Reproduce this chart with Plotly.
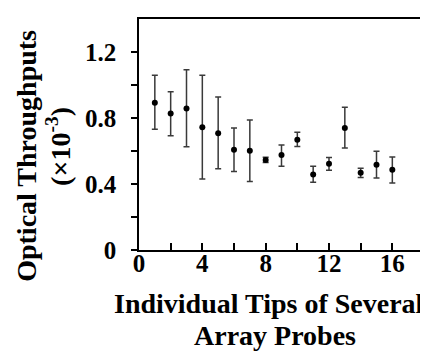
import plotly.graph_objects as go

tips = list(range(1, 17))
throughput = [0.893, 0.827, 0.857, 0.744, 0.708, 0.608, 0.602, 0.546,
              0.576, 0.668, 0.457, 0.522, 0.740, 0.468, 0.516, 0.486]
err_plus = [0.166, 0.132, 0.236, 0.315, 0.219, 0.132, 0.186, 0.016,
            0.060, 0.046, 0.051, 0.038, 0.125, 0.028, 0.082, 0.078]
err_minus = [0.161, 0.135, 0.231, 0.313, 0.216, 0.133, 0.187, 0.016,
             0.068, 0.040, 0.046, 0.038, 0.122, 0.029, 0.080, 0.080]

FONT = "Liberation Serif"

fig = go.Figure()
fig.add_trace(go.Scatter(
    x=tips, y=throughput, mode="markers",
    marker=dict(color="black", size=6),
    error_y=dict(type="data", symmetric=False, array=err_plus, arrayminus=err_minus,
                 color="#3a3a3a", thickness=1.5, width=3),
    showlegend=False,
))

W, H = 428, 352
L, R, T, B = 131, 12, 9, 110
pw, ph = W - L - R, H - T - B

tick_font = dict(family=FONT, size=25, color="black", weight="bold")

fig.update_layout(
    width=W, height=H,
    margin=dict(l=L, r=R, t=T, b=B),
    paper_bgcolor="white", plot_bgcolor="white",
    font=dict(family=FONT, size=18, color="black"),
    xaxis=dict(range=[0, 18], tickmode="array", tickvals=[0, 4, 8, 12, 16],
               ticks="inside", ticklen=7, tickwidth=1.5, tickcolor="black",
               minor=dict(tickmode="array", tickvals=[2, 6, 10, 14], ticks="inside",
                          ticklen=7, tickwidth=1.5, tickcolor="black"),
               showline=True, linecolor="black", linewidth=1.5, mirror=True,
               showgrid=False, zeroline=False,
               tickfont=tick_font, ticklabelstandoff=-10),
    yaxis=dict(range=[0, 1.4], tickmode="array", tickvals=[0, 0.4, 0.8, 1.2],
               ticktext=["0", "0.4", "0.8", "1.2"],
               ticks="outside", ticklen=6, tickwidth=1.5, tickcolor="black",
               minor=dict(tickmode="array", tickvals=[0.2, 0.6, 1.0], ticks="outside",
                          ticklen=6, tickwidth=1.5, tickcolor="black"),
               showline=True, linecolor="black", linewidth=1.5, mirror=True,
               showgrid=False, zeroline=False,
               tickfont=tick_font, ticklabelstandoff=10),
)

def px_x(p):
    return (p - L) / pw

def px_y(p):
    return 1 - (p - T) / ph

xt_font = dict(family=FONT, size=28, color="black", weight="bold")
yt_font = dict(family=FONT, size=28, color="black", weight="bold")
fig.add_annotation(text="Individual Tips of Several", x=px_x(261), y=px_y(296),
                   xref="paper", yref="paper", showarrow=False, font=xt_font,
                   xanchor="center", yanchor="middle")
fig.add_annotation(text="Array Probes", x=px_x(267), y=px_y(328),
                   xref="paper", yref="paper", showarrow=False, font=xt_font,
                   xanchor="center", yanchor="middle")
fig.add_annotation(text="Optical Throughputs", x=px_x(19), y=px_y(147),
                   xref="paper", yref="paper", showarrow=False, font=yt_font,
                   textangle=-90, xanchor="center", yanchor="middle")
fig.add_annotation(text="(×10<sup>-3</sup>)", x=px_x(51), y=px_y(138),
                   xref="paper", yref="paper", showarrow=False, font=yt_font,
                   textangle=-90, xanchor="center", yanchor="middle")

fig.write_html("out.html")
